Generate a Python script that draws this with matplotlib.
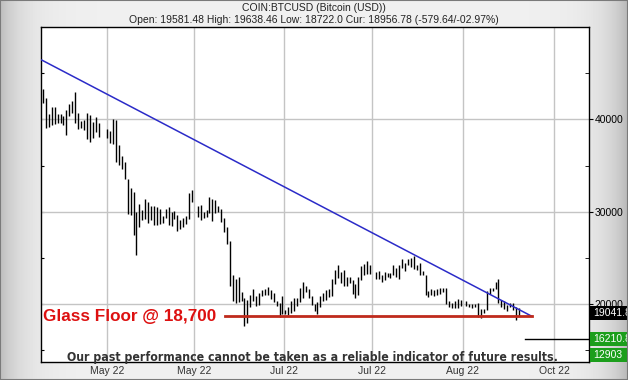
import numpy as np
import matplotlib.pyplot as plt
from matplotlib import font_manager as fm
from matplotlib.patches import Rectangle

nan = np.nan

# daily high / low, 10 Apr 2022 .. 20 Sep 2022 (nan = day missing in feed)
high_apr = [43250, 42270, 40570, 41360, 41300, 40570, 40540, 40390, 41000, 41620,
            42010, 42920, 40650, 39850, 39920, 40650, 40470, 39740, 40220, 39570, nan]
low_apr = [41730, 39090, 39200, 39380, 39490, 39570, 39570, 39380, 38300, 40390,
           40650, 39630, 38950, 39030, 38840, 37830, 37570, 38010, 38660, 38120, nan]
high_may = [nan, 39000, 38700, 40000, 39900, 37250, 36050, 35400, 33600, 32550,
            32150, 29950, 30900, 30250, 31340, 31080, 30610, 30610, 30540, 30360,
            29560, 30360, 30470, 29990, 30070, 29640, 29090, 29280, 29530, 32050, 32340]
low_may = [nan, 37950, 37500, 37350, 35400, 35100, 34600, 33600, 29800, 29650,
           27450, 25300, 28370, 29090, 29170, 28740, 29090, 28550, 28550, 28660,
           28800, 29280, 28550, 28440, 29170, 27940, 28190, 28370, 28660, 29170, 31080]
high_jun = [nan, 30640, 30720, 29990, 30180, 31620, 31340, 31300, 30650, 30300,
            29280, 28370, 26800, 23200, 22700, 22980, 21350, 20700, 20500, 21000,
            21700, 20850, 21200, 21500, 21600, 21850, 21500, 21200, 20400, 20150]
low_jun = [nan, 29450, 29090, 29280, 29450, 29820, 29020, 29850, 29950, 28900,
           27830, 26570, 22000, 20300, 20100, 20250, 20300, 17600, 17950, 19650,
           20400, 19800, 19900, 20900, 20950, 21000, 20520, 20200, 19850, 18650]
high_jul = [20900, 19400, 19650, 20300, 20700, 20650, 21800, 22450, 21950, 21600,
            20850, 20050, 20250, 20850, 21200, 21550, 21650, 22700, 23700, 24250,
            23450, 23700, 22950, 23000, 22600, 22240, 22950, 24100, 24400, 24650, 24200]
low_jul = [18970, 18950, 18800, 19050, 19300, 19800, 20250, 20700, 21300, 20700,
           19900, 19250, 18900, 19650, 20400, 20500, 20750, 20850, 22200, 22800,
           22300, 21950, 21950, 22300, 21150, 20650, 20970, 22600, 23150, 23320, 23250]
high_aug = [nan, 23450, 23600, 23200, 23450, 23350, 23350, 24200, 23900, 24200,
            24900, 24450, 24850, 25050, 25200, 24250, 24450, 23600, 23150, 21400,
            21700, 21550, 21600, 21800, 21800, 21800, 20400, 20150, 20400, 20550, 20450]
low_aug = [nan, 22700, 22700, 22450, 22600, 22950, 22850, 23150, 22900, 22700,
           23900, 23600, 24300, 24050, 23800, 23700, 23200, 23150, 20950, 20800,
           21050, 20900, 20950, 21150, 21350, 20070, 19700, 19600, 19550, 19550, 19800]
high_sep = [nan, 20400, 20000, 20000, 20050, 20150, 19450, 19450, 21400, 21800,
            21800, 22400, 22750, 20500, 20350, 19900, 20150, 20100, 19680, 19638]
low_sep = [nan, 19800, 19650, 19600, 19650, 18650, 18550, 19000, 19350, 21100,
           21400, 21600, 20100, 19650, 19500, 19300, 19700, 19350, 18270, 18722]

high = np.array(high_apr + high_may + high_jun + high_jul + high_aug + high_sep)
low = np.array(low_apr + low_may + low_jun + low_jul + low_aug + low_sep)
days = np.arange(len(high))

tick_pos = [21.9, 51.7, 82.5, 112.7, 143.8, 175.0]
tick_labels = ['May 22', 'May 22', 'Jul 22', 'Jul 22', 'Aug 22', 'Oct 22']

trend_x = [-0.45, 167.4]
trend_y = [46425, 18700]
floor_x = [62.3, 167.4]
floor_level = 18700
target_x = 165
target_level = 16210.8

green = '#1c9e1c'
box_vals = [19041.8, 16210.8, 12903]
box_text = ['19041.8', '16210.8', '12903']
box_cols = ['black', green, green]

title1 = 'COIN:BTCUSD (Bitcoin (USD))'
title2 = 'Open: 19581.48 High: 19638.46 Low: 18722.0 Cur: 18956.78 (-579.64/-02.97%)'
note = 'Our past performance cannot be taken as a reliable indicator of future results.'

plt.rcParams['font.family'] = ['Liberation Sans', 'DejaVu Sans']

# narrow bold face for the disclaimer if one is installed
narrow = sorted(f.fname for f in fm.fontManager.ttflist
                if ('Narrow' in f.fname or 'Condensed' in f.fname)
                and 'Bold' in f.fname and 'Oblique' not in f.fname and 'Italic' not in f.fname)
if narrow:
    note_font = fm.FontProperties(fname=narrow[0], size=8.8)
else:
    note_font = fm.FontProperties(family='Liberation Sans', weight='bold', size=8.8)

fig = plt.figure(figsize=(6.28, 3.80), dpi=100)

# grey gradient background
bg = fig.add_axes([0, 0, 1, 1], zorder=-10)
xs = np.linspace(0, 628, 628)
shade = 0.94 - 0.20 * np.exp(-xs / 22) - 0.22 * np.exp(-(628 - xs) / 22)
bg.imshow(shade[None, :], cmap='gray', vmin=0, vmax=1, aspect='auto', extent=[0, 1, 0, 1])
bg.set_axis_off()
fig.patches.append(Rectangle((0, 0), 1, 1, transform=fig.transFigure, fill=False,
                             edgecolor='#7a7a7a', lw=1.5))

ax = fig.add_axes([41 / 628, 18 / 380, 548 / 628, 335 / 380])
ax.set_facecolor('white')

ax.vlines(days, low, high, color='black', lw=1.0, zorder=3)
ax.plot(trend_x, trend_y, color='#2b2bc8', lw=1.1, zorder=4)
ax.plot(floor_x, [floor_level, floor_level], color='#bf2a1c', lw=2.0, zorder=4)
ax.plot([target_x, 200], [target_level, target_level], color='black', lw=1.0, zorder=4)

ax.set_xlim(-0.7, 187)
ax.set_ylim(13750, 50000)

ax.set_xticks(tick_pos)
ax.set_xticklabels(tick_labels, fontsize=7.5, color='#333333')
ax.tick_params(axis='x', length=0, pad=3)

ax.yaxis.tick_right()
ax.set_yticks([20000, 30000, 40000])
ax.set_yticks([15000, 25000, 35000, 45000], minor=True)
ax.tick_params(axis='y', which='major', direction='out', length=3, pad=1,
               labelsize=7.5, left=False, right=True)
ax.tick_params(axis='y', which='minor', direction='in', length=3, left=False, right=True)
sec = ax.secondary_yaxis('left')
sec.set_yticks(np.arange(15000, 50000, 5000))
sec.tick_params(direction='in', length=2, labelleft=False)
sec.spines['left'].set_visible(False)

ax.grid(True, which='major', color='#c4c4c4', lw=1.0, zorder=0)
for s in ax.spines.values():
    s.set_color('black')
    s.set_linewidth(1.0)

ax.text(0.004, floor_level, 'Glass Floor @ 18,700', transform=ax.get_yaxis_transform(),
        color='#dd1010', fontsize=12.3, fontweight='bold', va='center', ha='left', zorder=5)
ax.text(0.4945, 0.014, note, transform=ax.transAxes, ha='center', va='center',
        fontproperties=note_font, color='#333333', zorder=5)

# value boxes on the right
ymin, ymax = ax.get_ylim()
bh = 14 / 335
for v, t, c in zip(box_vals, box_text, box_cols):
    yc = max((v - ymin) / (ymax - ymin), bh / 2)
    ax.add_patch(Rectangle((1.002, yc - bh / 2), 0.08, bh, transform=ax.transAxes,
                           facecolor=c, edgecolor='none', clip_on=False, zorder=6))
    ax.text(1.008, yc, t, transform=ax.transAxes, color='white', fontsize=7.5,
            va='center', ha='left', clip_on=False, zorder=7)

fig.text(0.5, 1 - 8 / 380, title1, ha='center', va='center', fontsize=7.5, color='#222222')
fig.text(0.5, 1 - 20 / 380, title2, ha='center', va='center', fontsize=7.5, color='#222222')

fig.savefig('out.png', dpi=100)
